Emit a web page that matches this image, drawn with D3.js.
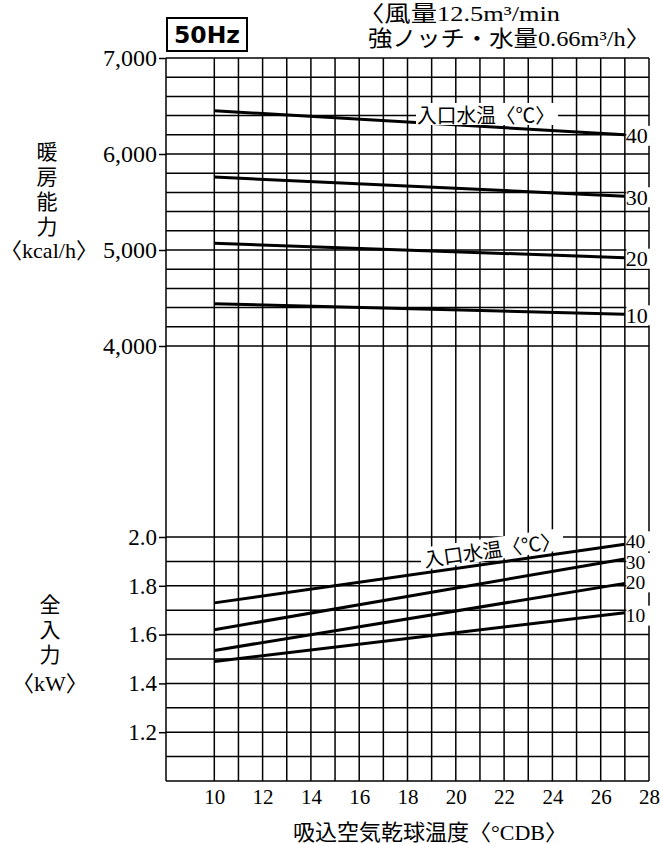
<!DOCTYPE html>
<html><head><meta charset="utf-8">
<script src="https://cdn.jsdelivr.net/npm/d3@7"></script>
<style>
html,body{margin:0;padding:0;background:#fff;}
svg{display:block;}
</style></head>
<body>
<svg id="chart" width="660" height="844"></svg>
<script>
// ---------------- data ----------------
const waterTemps = [40, 30, 20, 10];          // 入口水温 (°C)
const airTempEnds = [10, 27];                  // line start / end (°CDB)
const heatAt10 = [6450, 5760, 5070, 4440];     // 暖房能力 kcal/h at 10 °C
const heatAt27 = [6200, 5560, 4920, 4330];     // 暖房能力 kcal/h at 27 °C
const powerAt10 = [1.73, 1.62, 1.535, 1.49];   // 全入力 kW at 10 °C
const powerAt27 = [1.97, 1.91, 1.81, 1.69];    // 全入力 kW at 27 °C
const xTickValues = [10, 12, 14, 16, 18, 20, 22, 24, 26, 28];
const heatTickValues = [4000, 5000, 6000, 7000];
const powerTickValues = [1.2, 1.4, 1.6, 1.8, 2.0];
const xGridValues = [8, 10, 11, 12, 13, 14, 15, 16, 17, 18, 19, 20, 21, 22, 23, 24, 25, 26, 27, 28];
const heatGridValues = [4000, 4200, 4400, 4600, 4800, 5000, 5200, 5400, 5600, 5800, 6000, 6200, 6400, 6600, 6800, 7000];
const powerGridValues = [1.0, 1.1, 1.2, 1.3, 1.4, 1.5, 1.6, 1.7, 1.8, 1.9, 2.0];
const frequencyLabel = "50Hz";
const conditionLines = ["〈風量12.5m³/min", "強ノッチ・水量0.66m³/h〉"];
const heatTitle = "暖房能力";
const heatUnit = "〈kcal/h〉";
const powerTitle = "全入力";
const powerUnit = "〈kW〉";
const xTitle = "吸込空気乾球温度〈°CDB〉";
const seriesTitle = "入口水温〈℃〉";

// ---------------- layout ----------------
const SERIF = '"Liberation Serif", "Noto Sans CJK JP", serif';
const CJK = '"Noto Sans CJK JP", "Liberation Serif", sans-serif';
const svg = d3.select("#chart");

const x = d3.scaleLinear().domain([8, 28]).range([166, 649]);
const yHeat = d3.scaleLinear().domain([4000, 7000]).range([346, 58]);
const yPower = d3.scaleLinear().domain([1.0, 2.0]).range([781, 537]);

// grid
const grid = svg.append("g").attr("stroke", "#000").attr("stroke-width", 1.5);
grid.selectAll("line.v").data(xGridValues).join("line")
  .attr("x1", d => x(d)).attr("x2", d => x(d))
  .attr("y1", yHeat(7000)).attr("y2", yPower(1.0));
grid.selectAll("line.h1").data(heatGridValues).join("line")
  .attr("x1", x(8)).attr("x2", x(28))
  .attr("y1", d => yHeat(d)).attr("y2", d => yHeat(d));
grid.selectAll("line.h2").data(powerGridValues).join("line")
  .attr("x1", x(8)).attr("x2", x(28))
  .attr("y1", d => yPower(d)).attr("y2", d => yPower(d));

// axes
function styleAxis(g, size) {
  g.attr("font-family", SERIF);
  g.select(".domain").remove();
  g.selectAll(".tick line").attr("stroke", "#000").attr("stroke-width", 1.5);
  g.selectAll(".tick text").attr("fill", "#000").attr("font-family", SERIF).attr("font-size", size);
}
svg.append("g").attr("transform", `translate(${x(8)},0)`)
  .call(d3.axisLeft(yHeat).tickValues(heatTickValues).tickFormat(d3.format(",")).tickSize(7).tickPadding(2))
  .call(g => styleAxis(g, 24));
svg.append("g").attr("transform", `translate(${x(8)},0)`)
  .call(d3.axisLeft(yPower).tickValues(powerTickValues).tickFormat(d3.format(".1f")).tickSize(7).tickPadding(2))
  .call(g => styleAxis(g, 23));
svg.append("g").attr("transform", `translate(0,${yPower(1.0)})`)
  .call(d3.axisBottom(x).tickValues(xTickValues).tickFormat(d3.format("d")).tickSize(0).tickPadding(8))
  .call(g => styleAxis(g, 21));

// series lines
const heatLine = d3.line().x(d => x(d[0])).y(d => yHeat(d[1]));
const powerLine = d3.line().x(d => x(d[0])).y(d => yPower(d[1]));
waterTemps.forEach((t, i) => {
  svg.append("path").attr("d", heatLine([[airTempEnds[0], heatAt10[i]], [airTempEnds[1], heatAt27[i]]]))
    .attr("fill", "none").attr("stroke", "#000").attr("stroke-width", 3);
  svg.append("path").attr("d", powerLine([[airTempEnds[0], powerAt10[i]], [airTempEnds[1], powerAt27[i]]]))
    .attr("fill", "none").attr("stroke", "#000").attr("stroke-width", 3);
});

// end labels
function endLabel(text, yc, size) {
  const g = svg.append("g");
  g.append("rect").attr("x", x(27) + 1.5).attr("y", yc - 10).attr("width", x(28) - x(27) + 2).attr("height", 20).attr("fill", "#fff");
  g.append("text").attr("x", x(27) + 1).attr("y", yc).attr("dominant-baseline", "central")
    .attr("font-family", SERIF).attr("font-size", size).attr("fill", "#000").text(text);
}
const powerLabelNudge = [-3, 4, -1, 3];
waterTemps.forEach((t, i) => {
  endLabel(t, yHeat(heatAt27[i]) + 1, 22);
  endLabel(t, yPower(powerAt27[i]) + powerLabelNudge[i], 19.5);
});

// series title (upper)
{
  const g = svg.append("g");
  g.append("rect").attr("x", 416).attr("y", 103).attr("width", 142).attr("height", 22).attr("fill", "#fff");
  g.append("text").attr("x", 417).attr("y", 114).attr("dominant-baseline", "central")
    .attr("font-family", CJK).attr("font-size", 20).attr("fill", "#000")
    .attr("textLength", 138).attr("lengthAdjust", "spacingAndGlyphs").text(seriesTitle);
}
// series title (lower, rotated along line 40)
{
  const p0 = [x(airTempEnds[0]), yPower(powerAt10[0])];
  const p1 = [x(airTempEnds[1]), yPower(powerAt27[0])];
  const ang = Math.atan2(p1[1] - p0[1], p1[0] - p0[0]) * 180 / Math.PI;
  const cx = 492, cy = 549;
  const g = svg.append("g").attr("transform", `translate(${cx},${cy}) rotate(${ang})`);
  g.append("rect").attr("x", -72).attr("y", -11).attr("width", 144).attr("height", 22).attr("fill", "#fff");
  g.append("text").attr("x", 0).attr("y", 0).attr("text-anchor", "middle").attr("dominant-baseline", "central")
    .attr("font-family", CJK).attr("font-size", 20).attr("fill", "#000")
    .attr("textLength", 138).attr("lengthAdjust", "spacingAndGlyphs").text(seriesTitle);
}

// 50Hz box
svg.append("rect").attr("x", 167).attr("y", 18).attr("width", 80).attr("height", 33)
  .attr("fill", "#fff").attr("stroke", "#000").attr("stroke-width", 2);
svg.append("text").attr("x", 207).attr("y", 35).attr("text-anchor", "middle").attr("dominant-baseline", "central")
  .attr("font-family", '"DejaVu Sans", sans-serif').attr("font-weight", "bold").attr("font-size", 23)
  .attr("textLength", 66).attr("lengthAdjust", "spacingAndGlyphs").text(frequencyLabel);

// condition text (top right)
svg.append("text").attr("x", 358).attr("y", 13).attr("dominant-baseline", "central")
  .attr("font-family", SERIF).attr("font-size", 22).attr("textLength", 202).attr("lengthAdjust", "spacingAndGlyphs")
  .text(conditionLines[0]);
svg.append("text").attr("x", 368).attr("y", 38).attr("dominant-baseline", "central")
  .attr("font-family", SERIF).attr("font-size", 22).attr("textLength", 282).attr("lengthAdjust", "spacingAndGlyphs")
  .text(conditionLines[1]);

// y titles (vertical writing)
svg.append("text").attr("x", 47).attr("y", 141)
  .attr("font-family", CJK).attr("font-size", 21).attr("letter-spacing", 4)
  .style("writing-mode", "vertical-rl").text(heatTitle);
svg.append("text").attr("x", 0).attr("y", yHeat(5000)).attr("dominant-baseline", "central")
  .attr("font-family", SERIF).attr("font-size", 22).attr("textLength", 98).attr("lengthAdjust", "spacingAndGlyphs").text(heatUnit);
svg.append("text").attr("x", 50).attr("y", 594)
  .attr("font-family", CJK).attr("font-size", 21).attr("letter-spacing", 4)
  .style("writing-mode", "vertical-rl").text(powerTitle);
svg.append("text").attr("x", 50).attr("y", 683).attr("text-anchor", "middle").attr("dominant-baseline", "central")
  .attr("font-family", SERIF).attr("font-size", 22).text(powerUnit);

// x title
svg.append("text").attr("x", 430).attr("y", 832).attr("text-anchor", "middle").attr("dominant-baseline", "central")
  .attr("font-family", SERIF).attr("font-size", 22).text(xTitle);
</script>
</body></html>
